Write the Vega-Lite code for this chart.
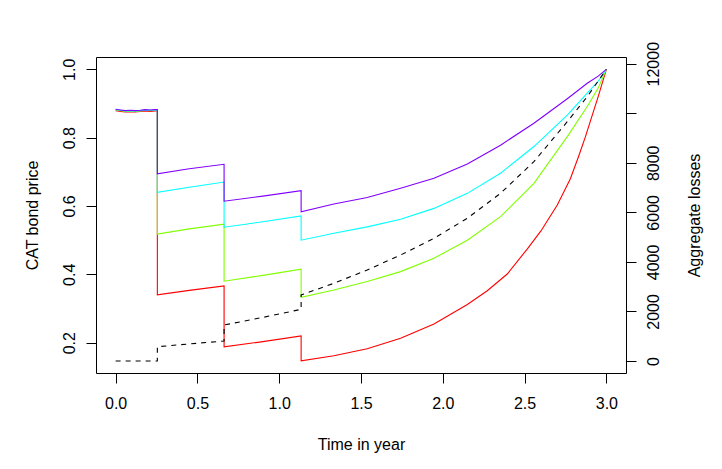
{
  "$schema": "https://vega.github.io/schema/vega-lite/v6.json",
  "autosize": "none",
  "padding": {"left": 96, "top": 57, "right": 96, "bottom": 96},
  "width": 530,
  "height": 316,
  "background": "white",
  "config": {
    "view": {"stroke": "black", "strokeWidth": 1},
    "axis": {
      "grid": false,
      "domain": false,
      "tickColor": "black",
      "tickWidth": 1,
      "tickSize": 10,
      "labelFont": "Liberation Sans",
      "labelFontSize": 16,
      "labelColor": "black",
      "titleFont": "Liberation Sans",
      "titleFontSize": 16,
      "titleFontWeight": "normal",
      "titleColor": "black"
    }
  },
  "datasets": {
    "prices": [
      {"s": "s1", "i": 0, "t": 0, "v": 0.879}, {"s": "s1", "i": 1, "t": 0.03, "v": 0.877}, {"s": "s1", "i": 2, "t": 0.06, "v": 0.875},
      {"s": "s1", "i": 3, "t": 0.09, "v": 0.876}, {"s": "s1", "i": 4, "t": 0.12, "v": 0.875}, {"s": "s1", "i": 5, "t": 0.15, "v": 0.877},
      {"s": "s1", "i": 6, "t": 0.18, "v": 0.878}, {"s": "s1", "i": 7, "t": 0.21, "v": 0.877}, {"s": "s1", "i": 8, "t": 0.24, "v": 0.878},
      {"s": "s1", "i": 9, "t": 0.255, "v": 0.878}, {"s": "s1", "i": 10, "t": 0.255, "v": 0.340}, {"s": "s1", "i": 11, "t": 0.45, "v": 0.353},
      {"s": "s1", "i": 12, "t": 0.663, "v": 0.366}, {"s": "s1", "i": 13, "t": 0.663, "v": 0.188}, {"s": "s1", "i": 14, "t": 0.90, "v": 0.203},
      {"s": "s1", "i": 15, "t": 1.134, "v": 0.220}, {"s": "s1", "i": 16, "t": 1.134, "v": 0.147}, {"s": "s1", "i": 17, "t": 1.334, "v": 0.162},
      {"s": "s1", "i": 18, "t": 1.538, "v": 0.182}, {"s": "s1", "i": 19, "t": 1.742, "v": 0.213}, {"s": "s1", "i": 20, "t": 1.946, "v": 0.255},
      {"s": "s1", "i": 21, "t": 2.150, "v": 0.312}, {"s": "s1", "i": 22, "t": 2.272, "v": 0.352}, {"s": "s1", "i": 23, "t": 2.394, "v": 0.401},
      {"s": "s1", "i": 24, "t": 2.516, "v": 0.474}, {"s": "s1", "i": 25, "t": 2.60, "v": 0.527}, {"s": "s1", "i": 26, "t": 2.70, "v": 0.603},
      {"s": "s1", "i": 27, "t": 2.78, "v": 0.680}, {"s": "s1", "i": 28, "t": 2.83, "v": 0.745}, {"s": "s1", "i": 29, "t": 2.87, "v": 0.800},
      {"s": "s1", "i": 30, "t": 2.91, "v": 0.860}, {"s": "s1", "i": 31, "t": 2.95, "v": 0.920}, {"s": "s1", "i": 32, "t": 3.0, "v": 1.0},

      {"s": "s2", "i": 0, "t": 0, "v": 0.881}, {"s": "s2", "i": 1, "t": 0.03, "v": 0.879}, {"s": "s2", "i": 2, "t": 0.06, "v": 0.877},
      {"s": "s2", "i": 3, "t": 0.09, "v": 0.878}, {"s": "s2", "i": 4, "t": 0.12, "v": 0.877}, {"s": "s2", "i": 5, "t": 0.15, "v": 0.878},
      {"s": "s2", "i": 6, "t": 0.18, "v": 0.880}, {"s": "s2", "i": 7, "t": 0.21, "v": 0.879}, {"s": "s2", "i": 8, "t": 0.24, "v": 0.880},
      {"s": "s2", "i": 9, "t": 0.255, "v": 0.880}, {"s": "s2", "i": 10, "t": 0.255, "v": 0.518}, {"s": "s2", "i": 11, "t": 0.45, "v": 0.533},
      {"s": "s2", "i": 12, "t": 0.663, "v": 0.547}, {"s": "s2", "i": 13, "t": 0.663, "v": 0.380}, {"s": "s2", "i": 14, "t": 0.90, "v": 0.397},
      {"s": "s2", "i": 15, "t": 1.134, "v": 0.415}, {"s": "s2", "i": 16, "t": 1.134, "v": 0.333}, {"s": "s2", "i": 17, "t": 1.334, "v": 0.354},
      {"s": "s2", "i": 18, "t": 1.538, "v": 0.379}, {"s": "s2", "i": 19, "t": 1.742, "v": 0.408}, {"s": "s2", "i": 20, "t": 1.946, "v": 0.447},
      {"s": "s2", "i": 21, "t": 2.150, "v": 0.500}, {"s": "s2", "i": 22, "t": 2.353, "v": 0.569}, {"s": "s2", "i": 23, "t": 2.557, "v": 0.666},
      {"s": "s2", "i": 24, "t": 2.761, "v": 0.803}, {"s": "s2", "i": 25, "t": 2.883, "v": 0.891}, {"s": "s2", "i": 26, "t": 2.95, "v": 0.945},
      {"s": "s2", "i": 27, "t": 3.0, "v": 1.0},

      {"s": "s3", "i": 0, "t": 0, "v": 0.882}, {"s": "s3", "i": 1, "t": 0.03, "v": 0.880}, {"s": "s3", "i": 2, "t": 0.06, "v": 0.878},
      {"s": "s3", "i": 3, "t": 0.09, "v": 0.879}, {"s": "s3", "i": 4, "t": 0.12, "v": 0.878}, {"s": "s3", "i": 5, "t": 0.15, "v": 0.879},
      {"s": "s3", "i": 6, "t": 0.18, "v": 0.881}, {"s": "s3", "i": 7, "t": 0.21, "v": 0.880}, {"s": "s3", "i": 8, "t": 0.24, "v": 0.881},
      {"s": "s3", "i": 9, "t": 0.255, "v": 0.881}, {"s": "s3", "i": 10, "t": 0.255, "v": 0.640}, {"s": "s3", "i": 11, "t": 0.45, "v": 0.655},
      {"s": "s3", "i": 12, "t": 0.663, "v": 0.670}, {"s": "s3", "i": 13, "t": 0.663, "v": 0.538}, {"s": "s3", "i": 14, "t": 0.90, "v": 0.554},
      {"s": "s3", "i": 15, "t": 1.134, "v": 0.571}, {"s": "s3", "i": 16, "t": 1.134, "v": 0.500}, {"s": "s3", "i": 17, "t": 1.334, "v": 0.520},
      {"s": "s3", "i": 18, "t": 1.538, "v": 0.539}, {"s": "s3", "i": 19, "t": 1.742, "v": 0.561}, {"s": "s3", "i": 20, "t": 1.946, "v": 0.593},
      {"s": "s3", "i": 21, "t": 2.150, "v": 0.637}, {"s": "s3", "i": 22, "t": 2.353, "v": 0.696}, {"s": "s3", "i": 23, "t": 2.557, "v": 0.774},
      {"s": "s3", "i": 24, "t": 2.761, "v": 0.866}, {"s": "s3", "i": 25, "t": 2.883, "v": 0.930}, {"s": "s3", "i": 26, "t": 2.95, "v": 0.965},
      {"s": "s3", "i": 27, "t": 3.0, "v": 1.0},

      {"s": "s4", "i": 0, "t": 0, "v": 0.883}, {"s": "s4", "i": 1, "t": 0.03, "v": 0.881}, {"s": "s4", "i": 2, "t": 0.06, "v": 0.879},
      {"s": "s4", "i": 3, "t": 0.09, "v": 0.880}, {"s": "s4", "i": 4, "t": 0.12, "v": 0.879}, {"s": "s4", "i": 5, "t": 0.15, "v": 0.880},
      {"s": "s4", "i": 6, "t": 0.18, "v": 0.882}, {"s": "s4", "i": 7, "t": 0.21, "v": 0.881}, {"s": "s4", "i": 8, "t": 0.24, "v": 0.882},
      {"s": "s4", "i": 9, "t": 0.255, "v": 0.882}, {"s": "s4", "i": 10, "t": 0.255, "v": 0.694}, {"s": "s4", "i": 11, "t": 0.45, "v": 0.709},
      {"s": "s4", "i": 12, "t": 0.663, "v": 0.722}, {"s": "s4", "i": 13, "t": 0.663, "v": 0.614}, {"s": "s4", "i": 14, "t": 0.90, "v": 0.629},
      {"s": "s4", "i": 15, "t": 1.134, "v": 0.645}, {"s": "s4", "i": 16, "t": 1.134, "v": 0.583}, {"s": "s4", "i": 17, "t": 1.334, "v": 0.606},
      {"s": "s4", "i": 18, "t": 1.538, "v": 0.625}, {"s": "s4", "i": 19, "t": 1.742, "v": 0.652}, {"s": "s4", "i": 20, "t": 1.946, "v": 0.681},
      {"s": "s4", "i": 21, "t": 2.150, "v": 0.723}, {"s": "s4", "i": 22, "t": 2.353, "v": 0.778}, {"s": "s4", "i": 23, "t": 2.557, "v": 0.842},
      {"s": "s4", "i": 24, "t": 2.761, "v": 0.914}, {"s": "s4", "i": 25, "t": 2.883, "v": 0.959}, {"s": "s4", "i": 26, "t": 2.95, "v": 0.980},
      {"s": "s4", "i": 27, "t": 3.0, "v": 1.0}
    ],
    "losses": [
      {"i": 0, "t": 0, "L": 0}, {"i": 1, "t": 0.255, "L": 0}, {"i": 2, "t": 0.255, "L": 577},
      {"i": 3, "t": 0.45, "L": 690}, {"i": 4, "t": 0.663, "L": 807}, {"i": 5, "t": 0.663, "L": 1453},
      {"i": 6, "t": 0.90, "L": 1760}, {"i": 7, "t": 1.134, "L": 2087}, {"i": 8, "t": 1.134, "L": 2664},
      {"i": 9, "t": 1.334, "L": 3136}, {"i": 10, "t": 1.538, "L": 3673}, {"i": 11, "t": 1.742, "L": 4279},
      {"i": 12, "t": 1.946, "L": 4952}, {"i": 13, "t": 2.150, "L": 5760}, {"i": 14, "t": 2.353, "L": 6769},
      {"i": 15, "t": 2.557, "L": 8045}, {"i": 16, "t": 2.761, "L": 9659}, {"i": 17, "t": 2.883, "L": 10668},
      {"i": 18, "t": 3.0, "L": 11774}
    ]
  },
  "layer": [
    {
      "data": {"name": "prices"},
      "mark": {"type": "line", "strokeWidth": 1.1},
      "encoding": {
        "x": {
          "field": "t",
          "type": "quantitative",
          "scale": {"domain": [-0.12, 3.12], "nice": false, "zero": false},
          "axis": {
            "values": [0, 0.5, 1, 1.5, 2, 2.5, 3],
            "format": ".1f",
            "labelPadding": 12,
            "title": "Time in year",
            "titleX": 265,
            "titleY": 76,
            "titleAlign": "center",
            "titleBaseline": "alphabetic"
          }
        },
        "y": {
          "field": "v",
          "type": "quantitative",
          "scale": {"domain": [0.1113, 1.036], "nice": false, "zero": false},
          "axis": {
            "orient": "left",
            "values": [0.2, 0.4, 0.6, 0.8, 1.0],
            "format": ".1f",
            "labelAngle": -90,
            "labelAlign": "center",
            "labelBaseline": "alphabetic",
            "labelPadding": 12,
            "title": "CAT bond price",
            "titleAngle": -90,
            "titleX": -59,
            "titleY": 158,
            "titleAlign": "center",
            "titleBaseline": "alphabetic"
          }
        },
        "color": {
          "field": "s",
          "type": "nominal",
          "scale": {"domain": ["s1", "s2", "s3", "s4"], "range": ["#FF0000", "#80FF00", "#00FFFF", "#8000FF"]},
          "legend": null
        },
        "order": {"field": "i", "type": "quantitative"}
      }
    },
    {
      "data": {"name": "losses"},
      "mark": {"type": "line", "color": "black", "strokeWidth": 1.1, "strokeDash": [5, 5]},
      "encoding": {
        "x": {"field": "t", "type": "quantitative"},
        "y": {
          "field": "L",
          "type": "quantitative",
          "scale": {"domain": [-484, 12270], "nice": false, "zero": false},
          "axis": {
            "orient": "right",
            "values": [0, 2000, 4000, 6000, 8000, 10000, 12000],
            "format": "d",
            "labelExpr": "datum.value == 10000 ? '' : datum.label",
            "labelAngle": -90,
            "labelAlign": "center",
            "labelBaseline": "top",
            "labelPadding": 9,
            "title": "Aggregate losses",
            "titleAngle": -90,
            "titleX": 73,
            "titleY": 158,
            "titleAlign": "center",
            "titleBaseline": "alphabetic"
          }
        },
        "order": {"field": "i", "type": "quantitative"}
      }
    }
  ],
  "resolve": {"scale": {"y": "independent"}, "axis": {"y": "independent"}}
}
